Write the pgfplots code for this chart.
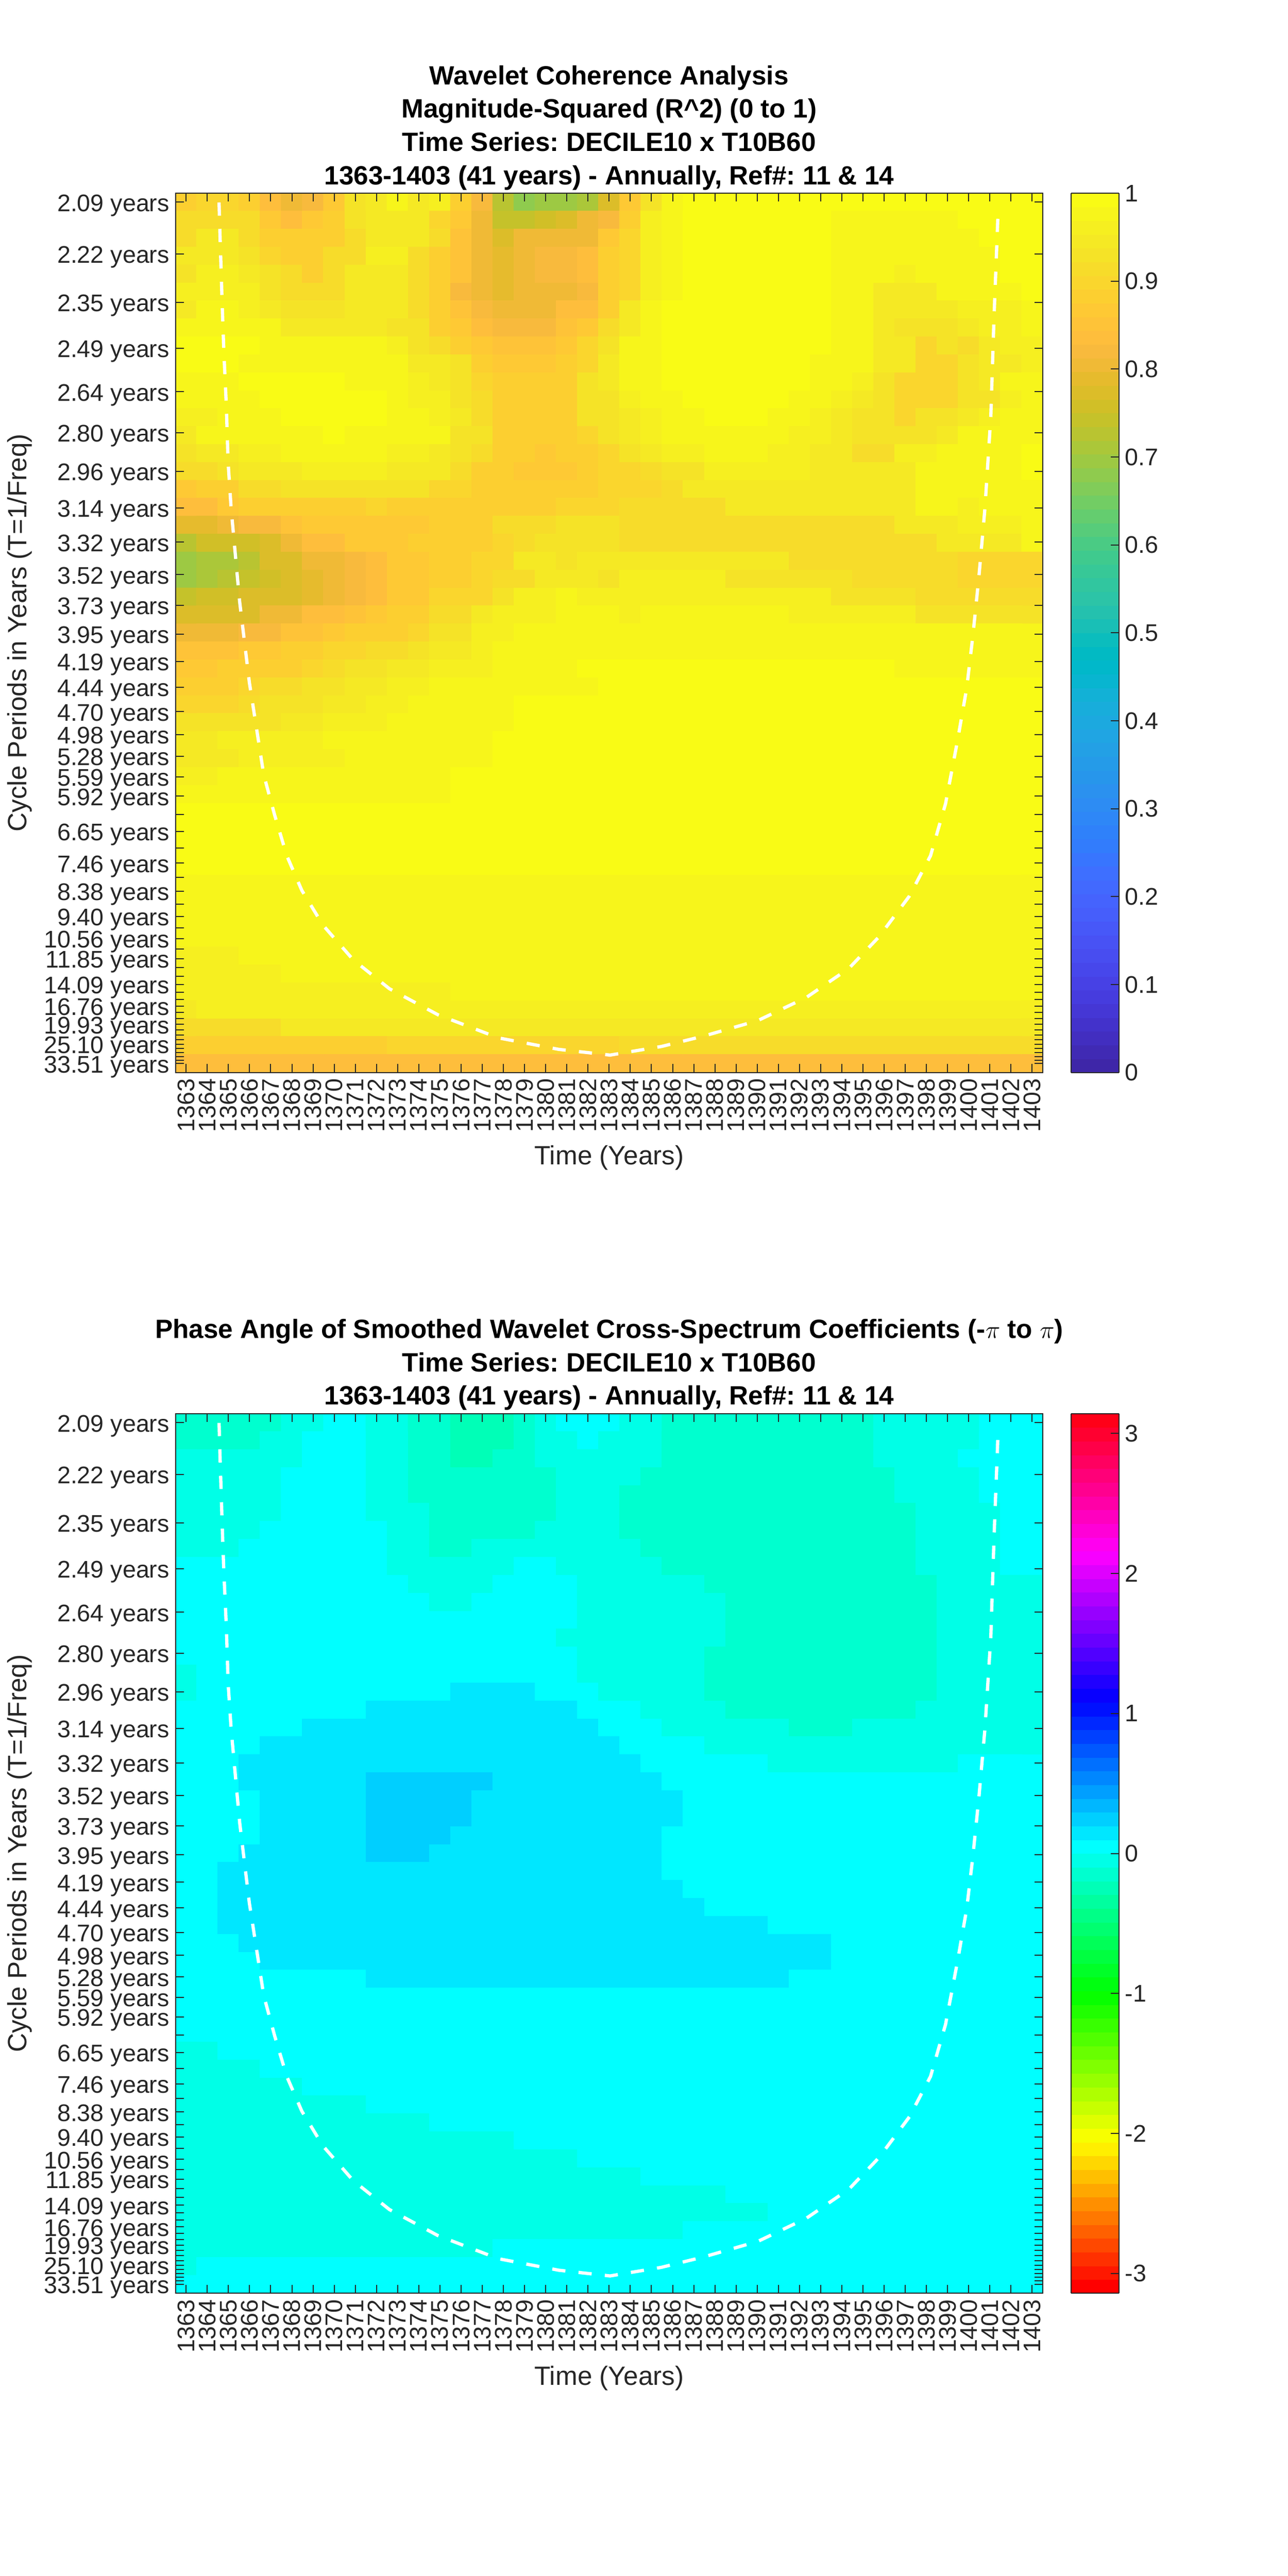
\documentclass[border=0pt]{standalone}
\usepackage{fontspec}
\setmainfont{Liberation Sans}
\usepackage{pgfplots}
\usepackage{pgfplotstable}
\pgfplotsset{compat=1.18}
\frenchspacing
\definecolor{mg}{rgb}{.15,.15,.15}
% R^2 values x 100, one line per row (top to bottom), 41 columns (1363..1403)
\pgfplotstableread[header=false]{
88 90 90 88 83 80 82 87 93 95 97 95 96 88 82 72 68 70 70 71 77 86 93 98 99 99 99 99 99 99 99 99 99 99 99 99 99 99 99 99 99
91 91 91 91 87 83 86 88 93 95 95 95 90 87 80 74 74 76 78 80 82 89 96 97 99 99 99 99 99 99 99 98 97 97 97 97 97 99 99 99 99
91 95 95 91 88 88 88 89 91 95 95 95 91 85 80 78 80 81 81 81 86 90 96 97 99 99 99 99 99 99 99 98 98 98 98 98 98 98 99 99 99
95 95 95 93 90 89 89 91 91 96 96 91 88 85 80 79 80 82 82 83 88 90 96 97 99 99 99 99 99 99 99 98 97 97 97 97 98 98 98 99 99
93 96 96 95 93 91 89 91 95 95 95 91 88 85 80 79 80 82 82 83 88 90 96 97 99 99 99 99 99 99 99 98 97 97 96 97 97 98 98 99 99
96 96 96 96 93 91 91 91 95 95 95 91 88 82 80 79 80 80 80 82 88 90 96 97 99 99 99 99 99 99 99 98 97 95 95 95 97 97 98 98 99
95 98 98 96 95 93 93 93 95 95 95 91 88 85 82 81 81 81 83 83 89 95 98 99 99 99 99 99 99 99 99 98 97 95 95 95 95 96 96 96 97
97 97 97 97 97 95 95 95 95 95 93 93 88 87 83 82 82 82 85 86 91 95 98 99 99 99 99 99 99 99 99 98 97 95 93 93 93 95 96 96 97
99 99 99 99 97 97 97 97 97 97 96 93 91 89 86 85 85 85 86 90 93 97 98 99 99 99 99 99 99 99 99 98 97 95 95 90 93 91 95 96 96
99 99 99 98 98 98 98 98 98 97 97 95 95 93 88 87 87 87 88 90 95 97 98 99 99 99 99 99 99 99 98 98 97 95 95 90 90 93 95 95 96
98 98 98 99 99 99 99 99 97 97 97 96 95 93 90 89 89 89 89 93 95 97 98 99 99 99 99 99 99 99 98 97 96 93 90 90 90 93 95 97 97
97 97 98 98 99 99 99 99 99 99 97 96 96 93 91 89 88 88 89 93 93 96 98 98 99 99 99 99 99 98 98 96 95 93 90 90 90 93 93 96 98
96 96 97 97 97 99 99 99 99 99 98 98 96 95 91 89 88 88 88 93 93 95 96 97 97 99 99 99 98 98 96 95 93 93 90 93 93 95 96 97 97
95 97 97 98 98 98 98 99 98 98 97 97 97 93 93 89 88 88 88 90 93 95 96 97 97 97 97 97 97 96 96 95 93 93 93 93 95 97 97 98 98
93 95 95 96 96 98 98 98 98 98 96 96 95 93 91 88 88 86 88 89 90 93 95 96 96 97 97 97 96 96 95 95 91 91 96 96 97 97 98 98 99
91 91 93 95 95 95 96 96 96 96 95 95 95 91 88 88 87 87 87 88 90 90 91 93 93 96 96 96 96 96 95 95 95 95 95 97 97 98 98 98 99
87 89 89 91 91 93 93 93 93 93 93 93 90 90 89 89 89 89 89 89 90 90 90 91 95 95 95 95 95 95 95 95 95 95 95 97 97 98 98 98 98
84 84 87 88 88 89 89 89 89 90 89 89 89 89 89 89 89 89 90 90 90 91 91 91 91 91 95 95 95 95 95 95 95 95 95 97 97 96 98 98 98
79 79 81 82 82 85 86 86 87 87 87 87 88 88 88 91 91 91 93 93 93 91 91 91 91 91 91 91 91 91 91 91 91 91 95 95 95 96 96 96 98
73 76 75 76 78 81 83 83 86 87 87 88 88 89 89 90 91 93 93 93 93 91 91 91 91 91 91 91 91 91 91 91 91 91 91 91 95 95 95 95 97
69 71 71 73 77 78 80 81 82 83 86 87 88 88 90 90 95 95 93 95 95 95 95 95 95 95 95 95 95 91 91 91 91 91 91 91 91 90 90 90 90
70 71 73 74 75 78 79 80 82 83 86 87 88 88 90 91 91 95 95 95 93 96 96 96 96 96 93 93 93 93 93 93 91 91 91 91 91 90 90 90 90
74 76 76 78 78 78 79 81 82 83 86 87 90 90 90 93 96 96 97 96 96 96 96 96 96 96 96 96 96 96 96 93 93 93 93 91 91 91 91 91 91
78 78 78 78 80 81 83 83 85 86 88 89 91 91 95 96 96 96 97 97 97 96 97 97 97 97 97 97 97 96 96 96 96 96 96 93 93 93 93 93 93
81 81 81 82 82 85 85 87 88 89 89 90 93 93 96 96 98 98 98 98 98 98 98 98 98 98 98 98 98 98 98 98 98 97 97 97 97 97 97 97 97
85 85 85 86 87 88 89 90 90 91 91 93 95 95 96 97 98 98 98 98 98 98 98 98 98 98 98 98 98 98 98 98 98 97 97 97 97 97 97 97 97
87 87 88 88 89 89 90 91 93 93 95 95 96 96 96 97 98 98 98 99 99 99 99 99 99 99 99 99 99 99 99 99 99 99 98 98 98 98 98 98 98
89 89 89 90 91 91 93 93 95 95 96 96 97 97 97 97 98 98 98 98 99 99 99 99 99 99 99 99 99 99 99 99 99 99 99 99 99 99 99 99 99
90 90 90 91 93 93 93 95 95 96 96 97 97 98 98 98 99 99 99 99 99 99 99 99 99 99 99 99 99 99 99 99 99 99 99 99 99 99 99 99 99
93 93 93 93 93 95 95 96 96 96 97 97 97 97 98 98 99 99 99 99 99 99 99 99 99 99 99 99 99 99 99 99 99 99 99 99 99 99 99 99 99
95 95 96 96 96 96 96 97 97 97 97 97 97 98 98 99 99 99 99 99 99 99 99 99 99 99 99 99 99 99 99 99 99 99 99 99 99 99 99 99 99
95 95 95 96 96 96 96 96 97 97 97 97 98 98 98 99 99 99 99 99 99 99 99 99 99 99 99 99 99 99 99 99 99 99 99 99 99 99 99 99 99
96 96 97 97 97 97 97 97 97 97 98 98 98 99 99 99 99 99 99 99 99 99 99 99 99 99 99 99 99 99 99 99 99 99 99 99 99 99 99 99 99
97 97 97 97 97 97 97 97 98 98 98 98 98 99 99 99 99 99 99 99 99 99 99 99 99 99 99 99 99 99 99 99 99 99 99 99 99 99 99 99 99
99 99 99 99 99 99 99 99 99 99 99 99 99 99 99 99 99 99 99 99 99 99 99 99 99 99 99 99 99 99 99 99 99 99 99 99 99 99 99 99 99
99 99 99 99 99 99 99 99 99 99 99 99 99 99 99 99 99 99 99 99 99 99 99 99 99 99 99 99 99 99 99 99 99 99 99 99 99 99 99 99 99
99 99 99 99 99 99 99 99 99 99 99 99 99 99 99 99 99 99 99 99 99 99 99 99 99 99 99 99 99 99 99 99 99 99 99 99 99 99 99 99 99
99 99 99 99 99 99 99 99 99 99 99 99 99 99 99 99 99 99 99 99 99 99 99 99 99 99 99 99 99 99 99 99 99 99 99 99 99 99 99 99 99
98 98 98 98 98 98 98 98 98 98 98 98 98 98 98 98 98 98 98 98 98 98 98 98 98 98 98 98 98 98 98 98 98 98 98 98 98 98 98 98 98
97 97 97 97 97 97 97 97 97 97 97 97 98 98 98 98 98 98 98 98 98 98 98 98 98 98 98 98 98 98 98 98 98 98 98 98 98 98 98 98 98
97 97 97 97 97 97 97 97 97 97 97 97 97 97 97 97 97 97 97 97 97 97 97 98 98 98 98 98 98 98 98 98 98 98 98 98 98 98 97 97 97
97 97 97 97 97 97 97 97 97 97 97 97 97 97 97 97 97 97 97 97 97 97 97 97 97 97 97 97 97 97 97 97 97 97 97 97 97 97 97 97 97
96 96 96 97 97 97 97 97 97 97 97 97 97 97 97 97 97 97 97 97 97 97 97 97 97 97 97 97 97 97 97 97 97 97 97 97 97 97 97 97 97
96 96 96 96 96 97 97 97 97 97 97 97 97 97 97 97 97 97 97 97 97 97 97 97 97 97 97 97 97 97 97 97 97 97 97 97 97 97 97 97 97
96 96 96 96 96 96 96 96 96 96 96 96 96 97 97 97 97 97 97 97 97 97 97 97 97 97 97 97 97 97 97 97 97 97 97 97 97 97 97 97 97
95 96 96 96 96 96 96 96 96 96 96 96 96 96 96 96 96 96 96 96 96 96 96 96 96 96 96 96 96 96 96 96 96 96 96 96 96 96 96 96 96
92 92 92 92 92 94 94 94 94 94 94 94 94 94 94 94 94 94 94 94 94 94 94 94 94 94 94 94 94 94 94 94 94 94 94 94 94 94 94 94 94
88 88 88 88 88 88 88 88 88 88 90 90 90 90 90 90 90 90 90 90 90 92 92 92 92 92 92 92 92 92 92 92 92 92 92 92 92 92 92 92 92
84 84 84 84 84 84 84 84 84 84 84 84 84 84 84 84 84 84 84 84 84 84 84 84 84 84 84 84 84 84 84 84 84 84 84 84 84 84 84 84 84
}\tblA
% phase angle x 100 (radians)
\pgfplotstableread[header=false]{
-15 -15 -15 -15 -15 -5 -5 5 5 -5 -5 -15 -15 -25 -25 -25 -15 -5 5 5 5 -5 -5 -15 -15 -15 -15 -15 -15 -15 -15 -15 -15 -5 -5 -5 -5 -5 5 5 5
-15 -15 -15 -15 -5 -5 5 5 5 -5 -5 -15 -15 -25 -25 -25 -15 -5 -5 5 -5 -5 -5 -15 -15 -15 -15 -15 -15 -15 -15 -15 -15 -5 -5 -5 -5 -5 5 5 5
-5 -5 -5 -5 -5 -5 5 5 5 -5 -5 -15 -15 -25 -25 -15 -15 -5 -5 -5 -5 -5 -5 -15 -15 -15 -15 -15 -15 -15 -15 -15 -15 -5 -5 -5 -5 5 5 5 5
-5 -5 -5 -5 -5 5 5 5 5 -5 -5 -15 -15 -15 -15 -15 -15 -15 -5 -5 -5 -5 -15 -15 -15 -15 -15 -15 -15 -15 -15 -15 -15 -15 -5 -5 -5 -5 5 5 5
-5 -5 -5 -5 -5 5 5 5 5 -5 -5 -15 -15 -15 -15 -15 -15 -15 -5 -5 -5 -15 -15 -15 -15 -15 -15 -15 -15 -15 -15 -15 -15 -15 -5 -5 -5 -5 5 5 5
-5 -5 -5 -5 -5 5 5 5 5 -5 -5 -5 -15 -15 -15 -15 -15 -15 -5 -5 -5 -15 -15 -15 -15 -15 -15 -15 -15 -15 -15 -15 -15 -15 -15 -5 -5 -5 -5 5 5
-5 -5 -5 -5 5 5 5 5 5 5 -5 -5 -15 -15 -15 -15 -15 -5 -5 -5 -5 -15 -15 -15 -15 -15 -15 -15 -15 -15 -15 -15 -15 -15 -15 -5 -5 -5 -5 5 5
-5 -5 -5 5 5 5 5 5 5 5 -5 -5 -15 -15 -5 -5 -5 -5 -5 -5 -5 -5 -15 -15 -15 -15 -15 -15 -15 -15 -15 -15 -15 -15 -15 -5 -5 -5 -5 5 5
5 5 5 5 5 5 5 5 5 5 -5 -5 -5 -5 -5 -5 5 5 -5 -5 -5 -5 -5 -15 -15 -15 -15 -15 -15 -15 -15 -15 -15 -15 -15 -5 -5 -5 -5 5 5
5 5 5 5 5 5 5 5 5 5 5 -5 -5 -5 -5 5 5 5 5 -5 -5 -5 -5 -5 -5 -15 -15 -15 -15 -15 -15 -15 -15 -15 -15 -15 -5 -5 -5 -5 -5
5 5 5 5 5 5 5 5 5 5 5 5 -5 -5 5 5 5 5 5 -5 -5 -5 -5 -5 -5 -5 -15 -15 -15 -15 -15 -15 -15 -15 -15 -15 -5 -5 -5 -5 -5
5 5 5 5 5 5 5 5 5 5 5 5 5 5 5 5 5 5 5 -5 -5 -5 -5 -5 -5 -5 -15 -15 -15 -15 -15 -15 -15 -15 -15 -15 -5 -5 -5 -5 -5
5 5 5 5 5 5 5 5 5 5 5 5 5 5 5 5 5 5 -5 -5 -5 -5 -5 -5 -5 -5 -15 -15 -15 -15 -15 -15 -15 -15 -15 -15 -5 -5 -5 -5 -5
5 5 5 5 5 5 5 5 5 5 5 5 5 5 5 5 5 5 5 -5 -5 -5 -5 -5 -5 -15 -15 -15 -15 -15 -15 -15 -15 -15 -15 -15 -5 -5 -5 -5 -5
-5 5 5 5 5 5 5 5 5 5 5 5 5 5 5 5 5 5 5 -5 -5 -5 -5 -5 -5 -15 -15 -15 -15 -15 -15 -15 -15 -15 -15 -15 -5 -5 -5 -5 -5
-5 5 5 5 5 5 5 5 5 5 5 5 5 15 15 15 15 5 5 5 -5 -5 -5 -5 -5 -15 -15 -15 -15 -15 -15 -15 -15 -15 -15 -15 -5 -5 -5 -5 -5
5 5 5 5 5 5 5 5 5 15 15 15 15 15 15 15 15 15 15 5 5 5 -5 -5 -5 -5 -15 -15 -15 -15 -15 -15 -15 -15 -15 -5 -5 -5 -5 -5 -5
5 5 5 5 5 5 15 15 15 15 15 15 15 15 15 15 15 15 15 15 5 5 5 -5 -5 -5 -5 -5 -5 -15 -15 -15 -5 -5 -5 -5 -5 -5 -5 -5 -5
5 5 5 5 15 15 15 15 15 15 15 15 15 15 15 15 15 15 15 15 15 5 5 5 5 -5 -5 -5 -5 -5 -5 -5 -5 -5 -5 -5 -5 -5 -5 -5 -5
5 5 5 15 15 15 15 15 15 15 15 15 15 15 15 15 15 15 15 15 15 15 5 5 5 5 5 5 -5 -5 -5 -5 -5 -5 -5 -5 -5 5 5 5 5
5 5 5 15 15 15 15 15 15 25 25 25 25 25 25 15 15 15 15 15 15 15 15 5 5 5 5 5 5 5 5 5 5 5 5 5 5 5 5 5 5
5 5 5 5 15 15 15 15 15 25 25 25 25 25 15 15 15 15 15 15 15 15 15 15 5 5 5 5 5 5 5 5 5 5 5 5 5 5 5 5 5
5 5 5 5 15 15 15 15 15 25 25 25 25 25 15 15 15 15 15 15 15 15 15 15 5 5 5 5 5 5 5 5 5 5 5 5 5 5 5 5 5
5 5 5 5 15 15 15 15 15 25 25 25 25 15 15 15 15 15 15 15 15 15 15 5 5 5 5 5 5 5 5 5 5 5 5 5 5 5 5 5 5
5 5 5 15 15 15 15 15 15 25 25 25 15 15 15 15 15 15 15 15 15 15 15 5 5 5 5 5 5 5 5 5 5 5 5 5 5 5 5 5 5
5 5 15 15 15 15 15 15 15 15 15 15 15 15 15 15 15 15 15 15 15 15 15 5 5 5 5 5 5 5 5 5 5 5 5 5 5 5 5 5 5
5 5 15 15 15 15 15 15 15 15 15 15 15 15 15 15 15 15 15 15 15 15 15 15 5 5 5 5 5 5 5 5 5 5 5 5 5 5 5 5 5
5 5 15 15 15 15 15 15 15 15 15 15 15 15 15 15 15 15 15 15 15 15 15 15 15 5 5 5 5 5 5 5 5 5 5 5 5 5 5 5 5
5 5 15 15 15 15 15 15 15 15 15 15 15 15 15 15 15 15 15 15 15 15 15 15 15 15 15 15 5 5 5 5 5 5 5 5 5 5 5 5 5
5 5 5 15 15 15 15 15 15 15 15 15 15 15 15 15 15 15 15 15 15 15 15 15 15 15 15 15 15 15 15 5 5 5 5 5 5 5 5 5 5
5 5 5 5 15 15 15 15 15 15 15 15 15 15 15 15 15 15 15 15 15 15 15 15 15 15 15 15 15 15 15 5 5 5 5 5 5 5 5 5 5
5 5 5 5 5 5 5 5 5 15 15 15 15 15 15 15 15 15 15 15 15 15 15 15 15 15 15 15 15 5 5 5 5 5 5 5 5 5 5 5 5
5 5 5 5 5 5 5 5 5 5 5 5 5 5 5 5 5 5 5 5 5 5 5 5 5 5 5 5 5 5 5 5 5 5 5 5 5 5 5 5 5
5 5 5 5 5 5 5 5 5 5 5 5 5 5 5 5 5 5 5 5 5 5 5 5 5 5 5 5 5 5 5 5 5 5 5 5 5 5 5 5 5
5 5 5 5 5 5 5 5 5 5 5 5 5 5 5 5 5 5 5 5 5 5 5 5 5 5 5 5 5 5 5 5 5 5 5 5 5 5 5 5 5
-5 -5 5 5 5 5 5 5 5 5 5 5 5 5 5 5 5 5 5 5 5 5 5 5 5 5 5 5 5 5 5 5 5 5 5 5 5 5 5 5 5
-5 -5 -5 -5 5 5 5 5 5 5 5 5 5 5 5 5 5 5 5 5 5 5 5 5 5 5 5 5 5 5 5 5 5 5 5 5 5 5 5 5 5
-5 -5 -5 -5 -5 -5 5 5 5 5 5 5 5 5 5 5 5 5 5 5 5 5 5 5 5 5 5 5 5 5 5 5 5 5 5 5 5 5 5 5 5
-5 -5 -5 -5 -5 -5 -5 -5 -5 5 5 5 5 5 5 5 5 5 5 5 5 5 5 5 5 5 5 5 5 5 5 5 5 5 5 5 5 5 5 5 5
-5 -5 -5 -5 -5 -5 -5 -5 -5 -5 -5 -5 5 5 5 5 5 5 5 5 5 5 5 5 5 5 5 5 5 5 5 5 5 5 5 5 5 5 5 5 5
-5 -5 -5 -5 -5 -5 -5 -5 -5 -5 -5 -5 -5 -5 -5 -5 5 5 5 5 5 5 5 5 5 5 5 5 5 5 5 5 5 5 5 5 5 5 5 5 5
-5 -5 -5 -5 -5 -5 -5 -5 -5 -5 -5 -5 -5 -5 -5 -5 -5 -5 -5 5 5 5 5 5 5 5 5 5 5 5 5 5 5 5 5 5 5 5 5 5 5
-5 -5 -5 -5 -5 -5 -5 -5 -5 -5 -5 -5 -5 -5 -5 -5 -5 -5 -5 -5 -5 -5 5 5 5 5 5 5 5 5 5 5 5 5 5 5 5 5 5 5 5
-5 -5 -5 -5 -5 -5 -5 -5 -5 -5 -5 -5 -5 -5 -5 -5 -5 -5 -5 -5 -5 -5 -5 -5 -5 -5 5 5 5 5 5 5 5 5 5 5 5 5 5 5 5
-5 -5 -5 -5 -5 -5 -5 -5 -5 -5 -5 -5 -5 -5 -5 -5 -5 -5 -5 -5 -5 -5 -5 -5 -5 -5 -5 -5 5 5 5 5 5 5 5 5 5 5 5 5 5
-5 -5 -5 -5 -5 -5 -5 -5 -5 -5 -5 -5 -5 -5 -5 -5 -5 -5 -5 -5 -5 -5 -5 -5 5 5 5 5 5 5 5 5 5 5 5 5 5 5 5 5 5
-5 -5 -5 -5 -5 -5 -5 -5 -5 -5 -5 -5 -5 -5 -5 5 5 5 5 5 5 5 5 5 5 5 5 5 5 5 5 5 5 5 5 5 5 5 5 5 5
-5 5 5 5 5 5 5 5 5 5 5 5 5 5 5 5 5 5 5 5 5 5 5 5 5 5 5 5 5 5 5 5 5 5 5 5 5 5 5 5 5
5 5 5 5 5 5 5 5 5 5 5 5 5 5 5 5 5 5 5 5 5 5 5 5 5 5 5 5 5 5 5 5 5 5 5 5 5 5 5 5 5
}\tblB
\newcommand\buildcoords[2]{%
  \gdef#2{}%
  \pgfplotsforeachungrouped \rr in {0,...,48}{%
    \pgfplotsforeachungrouped \cc in {0,...,40}{%
      \pgfplotstablegetelem{\rr}{[index]\cc}\of#1%
      \pgfmathtruncatemacro\yy{1363+\cc}%
      \xdef#2{#2 (\yy,\rr) [\pgfplotsretval e-2]}%
    }}}
\buildcoords{\tblA}{\coordsA}
\buildcoords{\tblB}{\coordsB}
\pgfplotsset{
 colormap={parulam}{
rgb=(0.2422,0.1504,0.6603) rgb=(0.2504,0.1650,0.7076) rgb=(0.2578,0.1818,0.7511) rgb=(0.2647,0.1978,0.7952)
rgb=(0.2706,0.2147,0.8364) rgb=(0.2751,0.2342,0.8710) rgb=(0.2783,0.2559,0.8991) rgb=(0.2803,0.2782,0.9221)
rgb=(0.2813,0.3006,0.9414) rgb=(0.2810,0.3228,0.9579) rgb=(0.2795,0.3447,0.9717) rgb=(0.2760,0.3667,0.9829)
rgb=(0.2699,0.3892,0.9906) rgb=(0.2602,0.4123,0.9952) rgb=(0.2440,0.4358,0.9988) rgb=(0.2206,0.4603,0.9973)
rgb=(0.1963,0.4847,0.9892) rgb=(0.1834,0.5074,0.9798) rgb=(0.1786,0.5289,0.9682) rgb=(0.1764,0.5499,0.9520)
rgb=(0.1687,0.5703,0.9359) rgb=(0.1540,0.5902,0.9218) rgb=(0.1460,0.6091,0.9079) rgb=(0.1380,0.6276,0.8973)
rgb=(0.1248,0.6459,0.8883) rgb=(0.1113,0.6635,0.8763) rgb=(0.0952,0.6798,0.8598) rgb=(0.0689,0.6948,0.8394)
rgb=(0.0297,0.7082,0.8163) rgb=(0.0036,0.7203,0.7917) rgb=(0.0067,0.7312,0.7660) rgb=(0.0433,0.7411,0.7394)
rgb=(0.0964,0.7500,0.7120) rgb=(0.1408,0.7584,0.6842) rgb=(0.1717,0.7670,0.6554) rgb=(0.1938,0.7758,0.6251)
rgb=(0.2161,0.7843,0.5923) rgb=(0.2470,0.7918,0.5567) rgb=(0.2906,0.7973,0.5188) rgb=(0.3406,0.8008,0.4789)
rgb=(0.3909,0.8029,0.4354) rgb=(0.4456,0.8024,0.3909) rgb=(0.5044,0.7993,0.3480) rgb=(0.5616,0.7942,0.3045)
rgb=(0.6174,0.7876,0.2612) rgb=(0.6720,0.7793,0.2227) rgb=(0.7242,0.7698,0.1910) rgb=(0.7738,0.7598,0.1646)
rgb=(0.8203,0.7498,0.1535) rgb=(0.8634,0.7406,0.1596) rgb=(0.9035,0.7330,0.1774) rgb=(0.9393,0.7288,0.2100)
rgb=(0.9728,0.7298,0.2394) rgb=(0.9956,0.7434,0.2371) rgb=(0.9970,0.7659,0.2199) rgb=(0.9952,0.7893,0.2028)
rgb=(0.9892,0.8136,0.1885) rgb=(0.9786,0.8386,0.1766) rgb=(0.9676,0.8639,0.1643) rgb=(0.9610,0.8890,0.1537)
rgb=(0.9597,0.9135,0.1423) rgb=(0.9628,0.9373,0.1265) rgb=(0.9691,0.9606,0.1064) rgb=(0.9769,0.9839,0.0805)
 },
 colormap={hsvbase}{rgb(0pt)=(1,0,0) rgb(10.6667pt)=(1,1,0) rgb(21.3333pt)=(0,1,0) rgb(32pt)=(0,1,1) rgb(42.6667pt)=(0,0,1) rgb(53.3333pt)=(1,0,1) rgb(63pt)=(1,0,0.09375)},
 colormap={hsvm}{samples of colormap=(64 of hsvbase)},
 wave/.style={
  scale only axis, width=505.2pt, anchor=south west,
  xmin=1362.5, xmax=1403.5, ymin=-0.5, ymax=48.5, y dir=reverse,
  enlargelimits=false, axis on top,
  colormap access=piecewise constant,
  tick align=inside, major tick length=4.9pt,
  xtick pos=both, ytick pos=both, xticklabel pos=bottom, yticklabel pos=left,
  axis line style={color=mg,line width=.6pt},
  tick style={color=mg,line width=.6pt},
  xtick={1363,...,1403},
  /pgf/number format/1000 sep={}, /pgf/number format/assume math mode=true,
  xticklabel style={rotate=90,anchor=east,font=\fontsize{14}{16}\selectfont,text=mg},
  ytick={0,2.874,5.586,8.146,10.562,12.844,14.996,17.028,18.946,20.756,22.465,24.078,25.6,27.037,28.393,29.673,30.881,32.022,33.098,34.114,35.073,35.978,36.833,37.639,38.4,39.118,39.797,40.437,41.040,41.611,42.149,42.657,43.137,43.589,44.016,44.420,44.8,45.159,45.498,45.818,46.120,46.406,46.674,46.928,47.168,47.394,47.608,47.810,48},
  yticklabels={2.09 years,2.22 years,2.35 years,2.49 years,2.64 years,2.80 years,2.96 years,3.14 years,3.32 years,3.52 years,3.73 years,3.95 years,4.19 years,4.44 years,4.70 years,4.98 years,5.28 years,5.59 years,5.92 years,{},6.65 years,{},7.46 years,{},8.38 years,{},9.40 years,{},10.56 years,{},11.85 years,{},{},14.09 years,{},{},16.76 years,{},{},19.93 years,{},{},{},25.10 years,{},{},{},{},33.51 years},
  yticklabel style={font=\fontsize{14}{16}\selectfont,text=mg,yshift=-1.9pt},
  xlabel={Time (Years)}, ylabel={Cycle Periods in Years (T=1/Freq)},
  xlabel style={at={(axis description cs:0.5,0)},anchor=center,yshift=-49.6pt,font=\fontsize{15.4}{18}\selectfont,text=mg},
  ylabel style={at={(axis description cs:0,0.5)},anchor=center,yshift=90.7pt,font=\fontsize{15.4}{18}\selectfont,text=mg},
  title style={at={(axis description cs:0.5,1)},anchor=south,yshift=-4.3pt,inner sep=0pt,align=center,font=\fontsize{15.4}{19.4}\selectfont\bfseries},
  colorbar sampled,
 },
 cbar/.style={
  at={(parent axis.north east)}, anchor=north west, xshift=8pt,
  width=27.84pt, samples=65, tick align=inside, major tick length=4.9pt,
  ytick pos=right, yticklabel pos=right,
  axis line style={color=mg,line width=.6pt},
  tick style={color=mg,line width=.6pt},
  yticklabel style={font=\fontsize{14}{16}\selectfont,text=mg},
 },
}
\begin{document}
\begin{tikzpicture}
\path[use as bounding box] (0,0) rectangle (750pt,1500.48pt);
\begin{axis}[wave, at={(102.24pt,875.76pt)}, height=512.16pt,
  colormap name=parulam, point meta min=0, point meta max=1,
  title={Wavelet Coherence Analysis\\Magnitude-Squared (R\textasciicircum 2) (0 to 1)\\Time Series: DECILE10 x T10B60\\1363-1403 (41 years) - Annually, Ref\#: 11 \& 14},
  colorbar style={cbar, height=512.16pt, ytick={0,0.1,...,1}, yticklabels={0,0.1,0.2,0.3,0.4,0.5,0.6,0.7,0.8,0.9,1}},
]
\edef\tmp{\noexpand\addplot[matrix plot*,mesh/cols=41,point meta=explicit] coordinates {\coordsA};}\tmp
\addplot[white,line width=1.9pt,dash pattern=on 7.7pt off 7.7pt,no marks,forget plot] coordinates {
(1364.557,0.015)(1364.614,2.27)(1364.70,5.49)(1364.786,8.39)(1364.90,11.29)(1364.986,14.51)(1365.13,17.09)(1365.33,19.67)(1365.53,22.25)(1365.76,24.5)(1365.99,26.76)(1366.33,29.33)(1366.67,31.91)(1367.19,34.17)(1367.76,36.42)(1368.47,38.35)(1369.47,40.29)(1370.9,42.22)(1372.61,43.83)(1374.9,45.28)(1377.76,46.57)(1380.61,47.21)(1383.04,47.53)(1385.47,47.05)(1387.47,46.47)(1390.04,45.6)(1392.33,44.31)(1394.33,42.7)(1395.76,40.93)(1397.19,38.67)(1398.19,36.42)(1398.9,33.52)(1399.47,29.98)(1399.9,27.08)(1400.19,24.18)(1400.47,20.96)(1400.76,17.09)(1401.04,11.94)(1401.19,6.46)(1401.39,0.34)};
\end{axis}
\begin{axis}[wave, at={(102.24pt,164.64pt)}, height=512.4pt,
  colormap name=hsvm, point meta min=-3.14159, point meta max=3.14159,
  title={Phase Angle of Smoothed Wavelet Cross-Spectrum Coefficients (-$\pi$ to $\pi$)\\Time Series: DECILE10 x T10B60\\1363-1403 (41 years) - Annually, Ref\#: 11 \& 14},
  colorbar style={cbar, height=512.4pt, ytick={-3,-2,-1,0,1,2,3}, yticklabels={-3,-2,-1,0,1,2,3}},
]
\edef\tmp{\noexpand\addplot[matrix plot*,mesh/cols=41,point meta=explicit] coordinates {\coordsB};}\tmp
\addplot[white,line width=1.9pt,dash pattern=on 7.7pt off 7.7pt,no marks,forget plot] coordinates {
(1364.557,0.015)(1364.614,2.27)(1364.70,5.49)(1364.786,8.39)(1364.90,11.29)(1364.986,14.51)(1365.13,17.09)(1365.33,19.67)(1365.53,22.25)(1365.76,24.5)(1365.99,26.76)(1366.33,29.33)(1366.67,31.91)(1367.19,34.17)(1367.76,36.42)(1368.47,38.35)(1369.47,40.29)(1370.9,42.22)(1372.61,43.83)(1374.9,45.28)(1377.76,46.57)(1380.61,47.21)(1383.04,47.53)(1385.47,47.05)(1387.47,46.47)(1390.04,45.6)(1392.33,44.31)(1394.33,42.7)(1395.76,40.93)(1397.19,38.67)(1398.19,36.42)(1398.9,33.52)(1399.47,29.98)(1399.9,27.08)(1400.19,24.18)(1400.47,20.96)(1400.76,17.09)(1401.04,11.94)(1401.19,6.46)(1401.39,0.34)};
\end{axis}
\end{tikzpicture}
\end{document}
